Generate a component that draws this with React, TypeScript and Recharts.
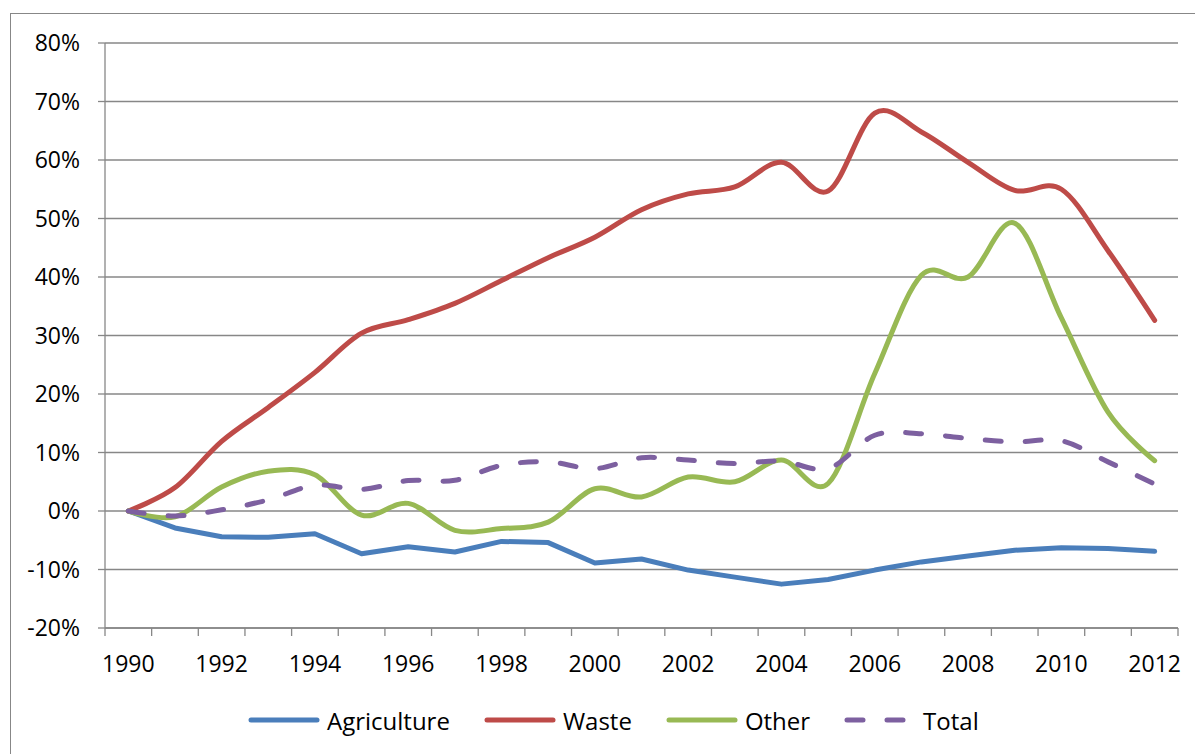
import { CartesianGrid, Legend, Line, LineChart, XAxis, YAxis } from "recharts";

// change since 1990, in %
const years = [
  "1990", "1991", "1992", "1993", "1994", "1995", "1996", "1997", "1998", "1999", "2000", "2001",
  "2002", "2003", "2004", "2005", "2006", "2007", "2008", "2009", "2010", "2011", "2012",
];
const agriculture = [
  0, -2.9, -4.4, -4.5, -3.9, -7.3, -6.1, -7.0, -5.2, -5.4, -8.9, -8.2,
  -10.1, -11.3, -12.5, -11.7, -10.1, -8.7, -7.7, -6.7, -6.3, -6.4, -6.9,
];
const waste = [
  0, 4.0, 11.9, 17.7, 23.7, 30.4, 32.7, 35.5, 39.4, 43.3, 46.8, 51.5,
  54.2, 55.4, 59.6, 54.7, 68.0, 64.8, 59.6, 54.8, 55.0, 44.5, 32.6,
];
const other = [
  0, -1.0, 4.1, 6.8, 6.2, -0.7, 1.3, -3.3, -3.0, -1.9, 3.8, 2.4,
  5.8, 5.0, 8.7, 4.7, 23.5, 40.3, 40.0, 49.2, 33.0, 16.9, 8.6,
];
const total = [
  0, -0.85, 0.2, 1.9, 4.4, 3.7, 5.2, 5.25, 7.8, 8.4, 7.25, 9.1,
  8.7, 8.1, 8.55, 7.25, 12.95, 13.2, 12.4, 11.8, 12.0, 8.4, 4.6,
];
const yTicks = [-20, -10, 0, 10, 20, 30, 40, 50, 60, 70, 80];

const data = years.map((year, i) => ({
  year,
  agriculture: agriculture[i],
  waste: waste[i],
  other: other[i],
  total: total[i],
}));

const W = 1195;
const H = 754;
const MARGIN = { top: 43, right: 17, bottom: 14, left: 0 };
const Y_AXIS_W = 105;
const BAND = (W - MARGIN.left - MARGIN.right - Y_AXIS_W) / years.length;
const GRAY = "#878787";
const FONT = "'Open Sans', sans-serif";
const LINE_W = 5;

const series = [
  { key: "agriculture", name: "Agriculture", color: "#4A7EBB", dash: undefined as string | undefined },
  { key: "waste", name: "Waste", color: "#BE4B48", dash: undefined },
  { key: "other", name: "Other", color: "#98B954", dash: undefined },
  { key: "total", name: "Total", color: "#7D60A0", dash: "16 24" },
];

// Excel style smoothed line (catmull-rom through the points)
function excelSmooth(context: any) {
  const k = 1 / 6;
  let x0 = NaN, y0 = NaN, x1 = NaN, y1 = NaN, x2 = NaN, y2 = NaN;
  let count = 0;
  let line = NaN;
  const seg = (x: number, y: number) => {
    context.bezierCurveTo(
      x1 + k * (x2 - x0), y1 + k * (y2 - y0),
      x2 + k * (x1 - x), y2 + k * (y1 - y),
      x2, y2
    );
  };
  return {
    areaStart() { line = 0; },
    areaEnd() { line = NaN; },
    lineStart() {
      x0 = x1 = x2 = y0 = y1 = y2 = NaN;
      count = 0;
    },
    lineEnd() {
      if (count === 2) context.lineTo(x2, y2);
      else if (count === 3) seg(x1, y1);
      if (line || (line !== 0 && count === 1)) context.closePath();
      line = 1 - line;
    },
    point(x: number, y: number) {
      x = +x;
      y = +y;
      if (count === 0) {
        count = 1;
        if (line) context.lineTo(x, y);
        else context.moveTo(x, y);
      } else if (count === 1) {
        count = 2;
        x1 = x;
        y1 = y;
      } else {
        count = 3;
        seg(x, y);
      }
      x0 = x1; x1 = x2; x2 = x;
      y0 = y1; y1 = y2; y2 = y;
    },
  };
}

function YearTick(props: any) {
  const { x, y, payload, index } = props;
  const last = index === years.length - 1;
  return (
    <g>
      <line x1={x - BAND / 2} x2={x - BAND / 2} y1={y} y2={y + 8} stroke={GRAY} strokeWidth={1.3} />
      {last && <line x1={x + BAND / 2} x2={x + BAND / 2} y1={y} y2={y + 8} stroke={GRAY} strokeWidth={1.3} />}
      {index % 2 === 0 && (
        <text x={x} y={y + 44} textAnchor="middle" fill="#000" fontSize={23} fontFamily={FONT}>
          {payload.value}
        </text>
      )}
    </g>
  );
}

function LegendContent() {
  return (
    <div style={{ display: "flex", alignItems: "center", height: 40, paddingLeft: 248, fontFamily: FONT, fontSize: 24, color: "#000" }}>
      {series.map((s) => (
        <div key={s.key} style={{ display: "flex", alignItems: "center", marginRight: 34 }}>
          <svg width={72} height={10} style={{ marginRight: 7 }}>
            <line x1={3} x2={69} y1={5} y2={5} stroke={s.color} strokeWidth={5} strokeLinecap="round" strokeDasharray={s.dash} />
          </svg>
          <span>{s.name}</span>
        </div>
      ))}
    </div>
  );
}

export default function App() {
  return (
    <div style={{ position: "absolute", left: 0, top: 0, width: W, height: H, overflow: "hidden", background: "#fff" }}>
      <div style={{ position: "absolute", left: 10, top: 13, width: W, height: H, border: `1.3px solid ${GRAY}` }} />
      <div style={{ position: "absolute", left: 0, top: 0, fontFamily: FONT }}>
        <LineChart width={W} height={H} data={data} margin={MARGIN}>
          <CartesianGrid vertical={false} stroke={GRAY} strokeWidth={1.3} />
          <XAxis
            dataKey="year"
            interval={0}
            height={72}
            padding={{ left: BAND / 2, right: BAND / 2 }}
            tickLine={false}
            tickSize={0}
            tickMargin={0}
            axisLine={{ stroke: GRAY, strokeWidth: 1.3 }}
            tick={<YearTick />}
          />
          <YAxis
            width={Y_AXIS_W}
            domain={[-20, 80]}
            ticks={yTicks}
            interval={0}
            tickFormatter={(v) => `${v}%`}
            tickSize={7}
            tickMargin={18}
            tickLine={{ stroke: GRAY, strokeWidth: 1.3 }}
            axisLine={{ stroke: GRAY, strokeWidth: 1.3 }}
            tick={{ fill: "#000", fontSize: 23, fontFamily: FONT }}
          />
          <Legend verticalAlign="bottom" content={<LegendContent />} />
          <Line
            dataKey="agriculture"
            name="Agriculture"
            type="linear"
            stroke="#4A7EBB"
            strokeWidth={LINE_W}
            strokeLinejoin="round"
            strokeLinecap="round"
            dot={false}
            activeDot={false}
            isAnimationActive={false}
          />
          <Line
            dataKey="waste"
            name="Waste"
            type={excelSmooth as any}
            stroke="#BE4B48"
            strokeWidth={LINE_W}
            strokeLinecap="round"
            dot={false}
            activeDot={false}
            isAnimationActive={false}
          />
          <Line
            dataKey="other"
            name="Other"
            type={excelSmooth as any}
            stroke="#98B954"
            strokeWidth={LINE_W}
            strokeLinecap="round"
            dot={false}
            activeDot={false}
            isAnimationActive={false}
          />
          <Line
            dataKey="total"
            name="Total"
            type={excelSmooth as any}
            stroke="#7D60A0"
            strokeWidth={LINE_W}
            strokeDasharray="16 24"
            strokeLinecap="round"
            dot={false}
            activeDot={false}
            isAnimationActive={false}
          />
        </LineChart>
      </div>
    </div>
  );
}
